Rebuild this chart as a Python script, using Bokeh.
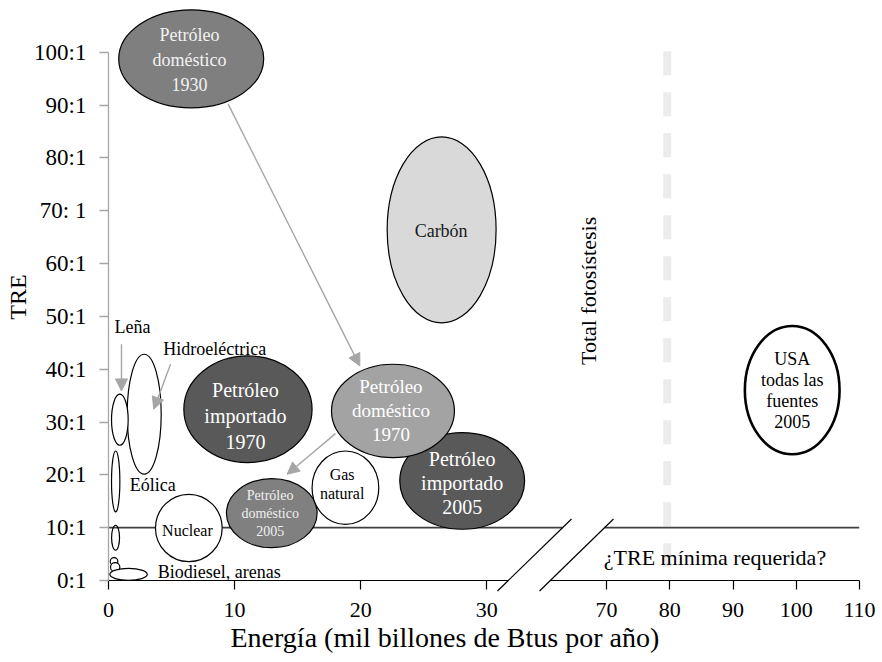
import math
from bokeh.plotting import figure
from bokeh.models import (Range1d, FixedTicker, ColumnDataSource, Arrow,
                          NormalHead, Title)
from bokeh.core.properties import value
from bokeh.embed import file_html
from bokeh.resources import INLINE

FONT = "Liberation Serif"

# ---------------- axis ticks ----------------
y_ticks = [0, 10, 20, 30, 40, 50, 60, 70, 80, 90, 100]
y_tick_labels = ["0:1", "10:1", "20:1", "30:1", "40:1", "50:1", "60:1",
                 "70: 1", "80:1", "90:1", "100:1"]
x_left_ticks = [0, 10, 20, 30]
x_right_ticks = [70, 80, 90, 100, 110]

# ---------------- energy sources (left segment: 0-30) ----------------
src_names = ["Carbón", "Petróleo doméstico 1930", "Hidroeléctrica", "Leña",
             "Eólica", "Eólica b", "Biodiesel a", "Biodiesel b", "Arenas",
             "Nuclear", "Petróleo importado 1970", "Petróleo doméstico 2005",
             "Gas natural", "Petróleo importado 2005", "Petróleo doméstico 1970"]
src_energy = [26.42, 6.56, 2.83, 0.90, 0.57, 0.56, 0.44, 0.53, 1.59,
              6.37, 11.06, 12.95, 18.79, 28.05, 22.56]
src_tre = [66.37, 98.75, 31.47, 30.43, 18.75, 8.09, 3.60, 2.52, 1.17,
           9.94, 32.42, 12.74, 17.57, 18.84, 32.10]
src_energy_span = [8.64, 11.5, 2.70, 1.32, 0.66, 0.63, 0.60, 0.74, 2.97,
                   5.29, 10.17, 7.19, 5.29, 9.90, 9.75]
src_tre_span = [35.2, 18.56, 22.72, 9.66, 11.55, 4.73, 1.44, 1.70, 2.27,
                12.74, 20.2, 13.07, 13.88, 18.3, 17.67]

# USA all sources 2005 (right segment: 70-110)
usa_energy = [99.36]
usa_tre = [36.03]
usa_energy_span = [14.97]
usa_tre_span = [24.3]

# total photosynthesis and minimum required EROI
fotosintesis_energy = 79.6
fotosintesis_tre = [100.2, 1.6]
tre_minima = 10

# axis break
break_left = 31.7
break_right = 61.1

# arrows (start -> end)
arrow_x0 = [9.49, 18.0, 1.03, 4.92]
arrow_y0 = [90.17, 27.8, 44.73, 40.94]
arrow_x1 = [19.93, 14.17, 1.03, 3.59]
arrow_y1 = [40.62, 20.11, 35.88, 32.42]

# bubble labels
lbl_text = ["Petróleo\ndoméstico\n1930", "Carbón", "Petróleo\nimportado\n1970",
            "Petróleo\ndoméstico\n1970", "Petróleo\ndoméstico\n2005",
            "Gas\nnatural", "Petróleo\nimportado\n2005", "Nuclear"]
lbl_x = [6.42, 26.38, 10.86, 22.40, 12.82, 18.53, 28.05, 6.26]
lbl_y = [98.56, 66.18, 31.15, 32.10, 12.72, 18.24, 18.46, 9.37]
usa_text = "USA\ntodas las\nfuentes\n2005"
usa_lbl_x = 99.36
usa_lbl_y = 35.88

side_text = ["Leña", "Hidroeléctrica", "Eólica", "Biodiesel, arenas"]
side_x = [0.48, 4.34, 1.69, 3.91]
side_y = [48.0, 43.78, 18.08, 1.67]

# ---------------- styles ----------------
src_fill = ["#d9d9d9", "#7f7f7f", "white", "white", "white", "white", "white",
            "white", "white", "white", "#595959", "#808080", "white",
            "#595959", "#a3a3a3"]
src_fill_alpha = [1, 1, 1, 1, 1, 0, 1, 1, 1, 1, 1, 1, 1, 1, 1]
lbl_color = ["#f2f2f2", "#1a1a1a", "white", "white", "#f0f0f0", "black",
             "white", "black"]
lbl_size = [18, 18, 20, 19, 14, 16, 20, 16]
lbl_lh = [1.25, 1.2, 1.17, 1.14, 1.19, 1.1, 1.08, 1.2]

left_range = Range1d(0, 59.56)
right_range = Range1d(-8.74, 110)
# frame bottom sits 13 px below TRE = 0 so that the break marks fit inside
y_range = Range1d(-2.461, 109.786)

p = figure(width=882, height=662, x_range=left_range, y_range=y_range,
           output_backend="svg", toolbar_location=None,
           min_border_left=108, min_border_right=23, min_border_top=0,
           min_border_bottom=69, title=None)
p.extra_x_ranges = {"right": right_range}
p.grid.visible = False
p.outline_line_color = None
p.background_fill_color = "white"
p.border_fill_color = "white"

# y axis
yax = p.yaxis[0]
yax.ticker = FixedTicker(ticks=y_ticks)
yax.major_label_overrides = dict(zip(y_ticks, y_tick_labels))
yax.bounds = (0, 100)
yax.axis_line_color = "#a6a6a6"
yax.axis_line_width = 1.3
yax.major_tick_line_color = "#a6a6a6"
yax.major_tick_line_width = 1.3
yax.major_tick_out = 9
yax.major_tick_in = 0
yax.minor_tick_line_color = None
yax.major_label_text_font = FONT
yax.major_label_text_font_size = "23px"
yax.major_label_text_color = "black"
yax.major_label_standoff = 13
yax.axis_label = "TRE"
yax.axis_label_text_font = FONT
yax.axis_label_text_font_size = "24px"
yax.axis_label_text_font_style = "normal"
yax.axis_label_text_color = "black"
yax.axis_label_standoff = 0


# broken x axis: right-segment tick values mapped onto the main range
def to_left(v):
    f = (v - right_range.start) / (right_range.end - right_range.start)
    return round(left_range.start + f * (left_range.end - left_range.start), 6)


x_tick_pos = [float(v) for v in x_left_ticks] + [to_left(v) for v in x_right_ticks]
x_tick_txt = [str(v) for v in x_left_ticks + x_right_ticks]

xax = p.xaxis[0]
xax.ticker = FixedTicker(ticks=x_tick_pos)
xax.major_label_overrides = dict(zip(x_tick_pos, x_tick_txt))
xax.axis_line_color = None
xax.major_tick_line_color = "black"
xax.major_tick_line_width = 1.2
xax.major_tick_in = 13
xax.major_tick_out = -4
xax.minor_tick_line_color = None
xax.major_label_text_font = FONT
xax.major_label_text_font_size = "22px"
xax.major_label_text_color = "black"
xax.major_label_standoff = 9

# x axis line pieces at TRE = 0
p.segment(x0=[0], y0=[0], x1=[break_left], y1=[0], line_color="black", line_width=1.2)
p.segment(x0=[break_right], y0=[0], x1=[110], y1=[0], x_range_name="right",
          line_color="black", line_width=1.2)

# x axis title
p.add_layout(Title(text="Energía (mil billones de Btus por año)", align="left",
                   offset=122, standoff=0, vertical_align="bottom",
                   text_font=FONT, text_font_size="28px",
                   text_font_style="normal", text_color="black"), "below")

# total photosynthesis dashed line
p.segment(x0=[fotosintesis_energy], y0=[fotosintesis_tre[0]],
          x1=[fotosintesis_energy], y1=[fotosintesis_tre[1]],
          x_range_name="right", line_color="#ececec", line_width=8,
          line_dash="24 17", line_cap="butt")

# minimum EROI line (two pieces, broken)
p.segment(x0=[0], y0=[tre_minima], x1=[36.0], y1=[tre_minima],
          line_color="#404040", line_width=1.6)
p.segment(x0=[69.7], y0=[tre_minima], x1=[110], y1=[tre_minima],
          x_range_name="right", line_color="#404040", line_width=1.6)

# break slashes
p.segment(x0=[break_left - 0.85], y0=[-1.99], x1=[break_left + 5.02], y1=[11.65],
          line_color="black", line_width=1.2)
p.segment(x0=[break_right - 1.69], y0=[-1.99], x1=[break_right + 10.0], y1=[11.65],
          x_range_name="right", line_color="black", line_width=1.2)

# ellipses
src = ColumnDataSource(dict(x=src_energy, y=src_tre, w=src_energy_span,
                            h=src_tre_span, fill=src_fill, fa=src_fill_alpha,
                            name=src_names))
p.ellipse(x="x", y="y", width="w", height="h", source=src, fill_color="fill",
          fill_alpha="fa", line_color="black", line_width=1.2)
usa = ColumnDataSource(dict(x=usa_energy, y=usa_tre, w=usa_energy_span, h=usa_tre_span))
p.ellipse(x="x", y="y", width="w", height="h", source=usa, x_range_name="right",
          fill_color="white", line_color="black", line_width=2.6)

# bubble labels
for t, x, y, c, s, lh in zip(lbl_text, lbl_x, lbl_y, lbl_color, lbl_size, lbl_lh):
    p.text(x=[x], y=[y], text=[t], text_font=value(FONT),
           text_font_size=value(f"{s}px"), text_color=c, text_align="center",
           text_baseline="middle", text_line_height=lh)
p.text(x=[usa_lbl_x], y=[usa_lbl_y], text=[usa_text], x_range_name="right",
       text_font=value(FONT), text_font_size=value("18px"), text_color="black",
       text_align="center", text_baseline="middle", text_line_height=1.05)

p.text(x=side_x, y=side_y, text=side_text, text_font=value(FONT),
       text_font_size=value("18px"), text_color="black", text_align="left",
       text_baseline="middle")

p.text(x=[67.15], y=[54.82], text=["Total fotosístesis"], x_range_name="right",
       angle=math.pi / 2, text_font=value(FONT), text_font_size=value("22px"),
       text_color="black", text_align="center", text_baseline="middle")
p.text(x=[69.57], y=[4.32], text=["¿TRE mínima requerida?"], x_range_name="right",
       text_font=value(FONT), text_font_size=value("22px"), text_color="black",
       text_align="left", text_baseline="middle")

# arrows
asrc = ColumnDataSource(dict(x0=arrow_x0, y0=arrow_y0, x1=arrow_x1, y1=arrow_y1))
p.add_layout(Arrow(source=asrc, x_start="x0", y_start="y0", x_end="x1", y_end="y1",
                   line_color="#a6a6a6", line_width=1.4,
                   end=NormalHead(size=12, fill_color="#a6a6a6",
                                  line_color="#a6a6a6")))

open("out.html", "w").write(file_html(p, INLINE))
